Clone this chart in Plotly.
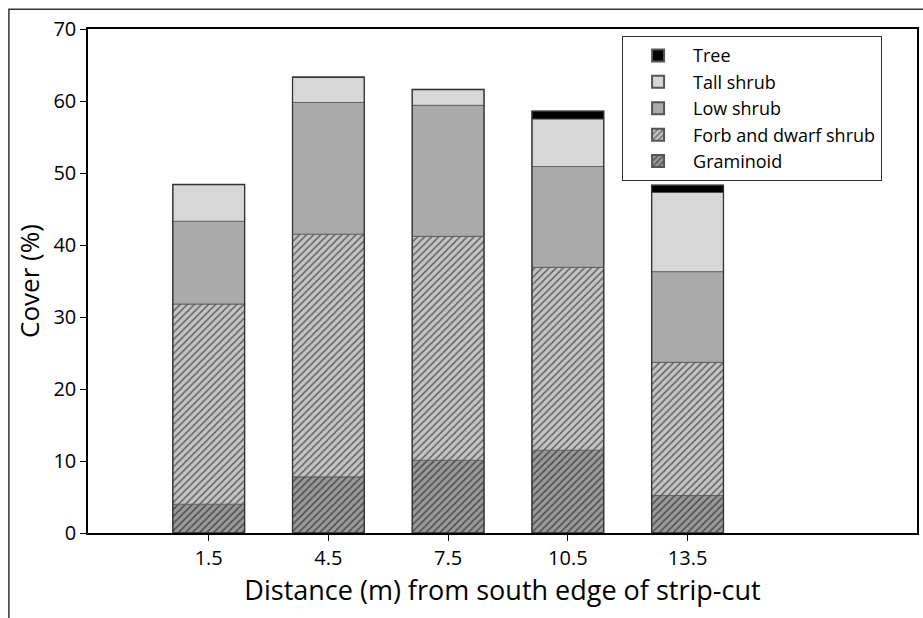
import numpy as np
import plotly.graph_objects as go

distance = [1.5, 4.5, 7.5, 10.5, 13.5]
tick_labels = ["1.5", "4.5", "7.5", "10.5", "13.5"]

graminoid = [4.0, 7.8, 10.1, 11.5, 5.2]
forb_dwarf = [27.8, 33.7, 31.1, 25.4, 18.5]
low_shrub = [11.5, 18.3, 18.2, 14.0, 12.6]
tall_shrub = [5.1, 3.5, 2.2, 6.6, 11.0]
tree = [0.0, 0.0, 0.0, 1.1, 1.0]

series = [
    ("Graminoid", graminoid, "#999999", True),
    ("Forb and dwarf shrub", forb_dwarf, "#c4c4c4", True),
    ("Low shrub", low_shrub, "#aaaaaa", False),
    ("Tall shrub", tall_shrub, "#d7d7d7", False),
    ("Tree", tree, "#000000", False),
]

FONT = "Open Sans"
BAR_W = 1.8

fig = go.Figure()
base = np.zeros(len(distance))
for name, vals, color, hatched in series:
    vals = np.array(vals, dtype=float)
    marker = dict(color=color, line=dict(width=0.8, color="#555555"))
    if hatched:
        marker["pattern"] = dict(shape="/", fgcolor="#000000", bgcolor=color,
                                 size=5, solidity=0.3, fillmode="overlay")
    fig.add_trace(go.Bar(
        x=distance, y=vals, base=base.copy(), name=name, width=BAR_W,
        marker=marker, showlegend=True,
    ))
    base = base + vals

# outline around each full stack
fig.add_trace(go.Bar(
    x=distance, y=base, base=np.zeros(len(distance)), width=BAR_W,
    marker=dict(color="rgba(0,0,0,0)", line=dict(width=1.3, color="#333333")),
    showlegend=False, hoverinfo="skip",
))

fig.update_layout(
    barmode="overlay",
    width=923, height=618,
    margin=dict(l=88, r=4, t=29, b=85),
    paper_bgcolor="white", plot_bgcolor="white",
    font=dict(family=FONT, color="black", size=20),
    legend=dict(
        x=0.644, y=0.986, xanchor="left", yanchor="top",
        traceorder="reversed", bordercolor="#333333", borderwidth=1.2,
        bgcolor="white", font=dict(size=18, family=FONT), tracegroupgap=0,
        itemsizing="constant", itemwidth=60,
    ),
    xaxis=dict(
        range=[-1.525, 19.25], tickmode="array", tickvals=distance,
        ticktext=tick_labels, ticks="outside", ticklen=6, tickwidth=1.3,
        tickcolor="black", showline=True, linecolor="black", linewidth=1.5,
        mirror=True, showgrid=False, zeroline=False,
        tickfont=dict(size=20, family=FONT),
        title=dict(text="Distance (m) from south edge of strip-cut",
                   font=dict(size=27, family=FONT), standoff=10),
    ),
    yaxis=dict(
        range=[0, 70], tickmode="array", tickvals=list(range(0, 71, 10)),
        ticks="outside", ticklen=6, tickwidth=1.3, tickcolor="black",
        showline=True, linecolor="black", linewidth=1.5, mirror=True,
        showgrid=False, zeroline=False,
        tickfont=dict(size=20, family=FONT),
        title=dict(text="Cover (%)", font=dict(size=26, family=FONT), standoff=6),
    ),
    shapes=[dict(type="rect", xref="paper", yref="paper",
                 x0=-0.0954, x1=1.02, y0=-0.25, y1=1.039,
                 line=dict(color="#333333", width=1.5), layer="below")],
)

fig.write_html("out.html")
